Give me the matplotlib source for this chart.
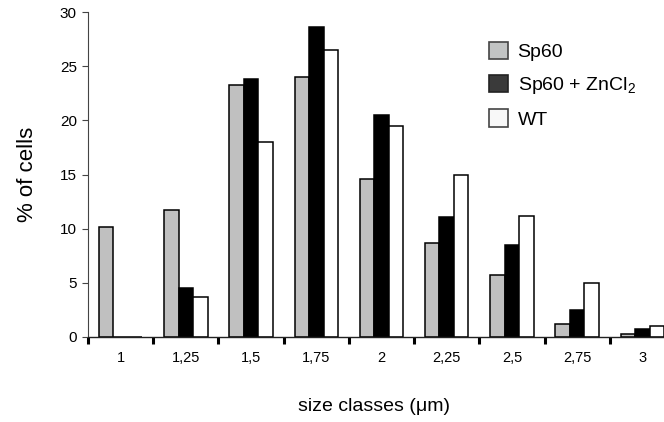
import matplotlib
matplotlib.use("Agg")
import matplotlib.pyplot as plt
import numpy as np
from matplotlib.patches import Patch

plt.rcParams['font.family'] = ['Liberation Sans', 'DejaVu Sans']
plt.rcParams['mathtext.fontset'] = 'custom'
plt.rcParams['mathtext.rm'] = 'Liberation Sans'
plt.rcParams['mathtext.it'] = 'Liberation Sans:italic'

size_classes = ['1', '1,25', '1,5', '1,75', '2', '2,25', '2,5', '2,75', '3']
sp60 = [10.2, 11.7, 23.3, 24.0, 14.6, 8.7, 5.7, 1.2, 0.3]
sp60_zn = [0.0, 4.5, 23.8, 28.6, 20.5, 11.1, 8.5, 2.5, 0.7]
wt = [0.0, 3.7, 18.0, 26.5, 19.5, 15.0, 11.2, 5.0, 1.0]
series_names = ['Sp60', 'Sp60 + ZnCl$_2$', 'WT']

fig = plt.figure(figsize=(6.64, 4.22), dpi=100)
ax = fig.add_axes([88 / 664, 85 / 422, 587 / 664, 325 / 422])

x = np.arange(len(size_classes)) + 0.5
w = 0.222
bar_kw = dict(width=w, edgecolor='black', linewidth=1.1)
ax.bar(x - w, sp60, color='#c0c0c0', **bar_kw)
ax.bar(x, sp60_zn, color='black', **bar_kw)
ax.bar(x + w, wt, color='white', **bar_kw)

ax.set_xlim(0, len(size_classes))
ax.set_ylim(0, 30)
ax.set_yticks([0, 5, 10, 15, 20, 25, 30])
ax.tick_params(axis='y', labelsize=11, length=4, width=0.8, color='#444444', pad=4)

ax.set_xticks(np.arange(len(size_classes) + 1))
ax.set_xticklabels([])
ax.tick_params(axis='x', which='major', length=5, width=2.2, color='black')
ax.set_xticks(x, minor=True)
ax.set_xticklabels(size_classes, minor=True)
ax.tick_params(axis='x', which='minor', length=0, labelsize=10.5, pad=10)

for s in ['top', 'right']:
    ax.spines[s].set_visible(False)
ax.spines['left'].set_color('#444444')
ax.spines['bottom'].set_color('#222222')
ax.spines['left'].set_linewidth(0.8)
ax.spines['bottom'].set_linewidth(1.0)

ax.set_ylabel('% of cells', fontsize=16, labelpad=16)
ax.set_xlabel('size classes (\u03bcm)', fontsize=14)
ax.xaxis.set_label_coords(286 / 587, -61 / 325)

handles = [
    Patch(facecolor='#c2c4c4', edgecolor='#444444', linewidth=1.2),
    Patch(facecolor='#3a3a3a', edgecolor='#222222', linewidth=1.2),
    Patch(facecolor='#f8f8f8', edgecolor='#444444', linewidth=1.2),
]
fig.legend(handles, series_names, loc='upper left',
           bbox_to_anchor=(479 / 664, 1 - 32 / 422), frameon=False,
           fontsize=14, handlelength=0.98, handleheight=0.98,
           handletextpad=0.5, labelspacing=0.7, borderpad=0)

fig.savefig('out.png', dpi=100)
